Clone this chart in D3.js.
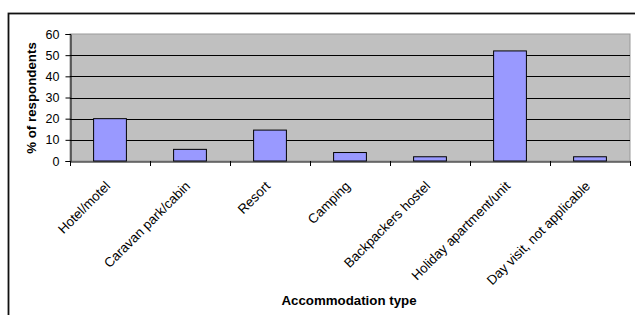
<!DOCTYPE html>
<html>
<head>
<meta charset="utf-8">
<script src="https://cdn.jsdelivr.net/npm/d3@7"></script>
<style>
  body { margin: 0; background: #fff; }
  svg text { font-family: "Liberation Sans", Arial, sans-serif; }
</style>
</head>
<body>
<div id="chart"></div>
<script>
const categories = ["Hotel/motel", "Caravan park/cabin", "Resort", "Camping",
  "Backpackers hostel", "Holiday apartment/unit", "Day visit, not applicable"];
const percentValues = [20, 5.5, 14.6, 4, 2, 52, 2];
const yTicks = [0, 10, 20, 30, 40, 50, 60];

const svg = d3.select("#chart")
  .append("svg")
  .attr("width", 635)
  .attr("height", 315);

// outer frame (cropped on right and bottom)
svg.append("rect")
  .attr("x", 8.5)
  .attr("y", 13.5)
  .attr("width", 640)
  .attr("height", 320)
  .attr("fill", "none")
  .attr("stroke", "#111")
  .attr("stroke-width", 1.8);

const plotLeft = 70, plotRight = 630, plotTop = 34, plotBottom = 161;

const xScale = d3.scaleBand()
  .domain(categories)
  .range([plotLeft, plotRight]);

const yScale = d3.scaleLinear()
  .domain([0, 60])
  .range([plotBottom, plotTop]);

// plot area
svg.append("rect")
  .attr("x", plotLeft)
  .attr("y", plotTop)
  .attr("width", plotRight - plotLeft)
  .attr("height", plotBottom - plotTop)
  .attr("fill", "#c0c0c0")
  .attr("stroke", "#999")
  .attr("stroke-width", 1);

// horizontal gridlines
svg.selectAll("line.hgrid")
  .data(yTicks.slice(1, -1))
  .enter()
  .append("line")
  .attr("class", "hgrid")
  .attr("x1", plotLeft)
  .attr("x2", plotRight)
  .attr("y1", d => Math.round(yScale(d)) + 0.5)
  .attr("y2", d => Math.round(yScale(d)) + 0.5)
  .attr("stroke", "#000")
  .attr("stroke-width", 1);

// bars
const barW = xScale.bandwidth() * 0.41;
svg.selectAll(".bar")
  .data(percentValues)
  .enter()
  .append("rect")
  .attr("class", "bar")
  .attr("x", (d, i) => xScale(categories[i]) + (xScale.bandwidth() - barW) / 2)
  .attr("y", d => yScale(d))
  .attr("width", barW)
  .attr("height", d => plotBottom - yScale(d))
  .attr("fill", "#9999ff")
  .attr("stroke", "#000")
  .attr("stroke-width", 1);

// y axis
const yAxis = d3.axisLeft(yScale)
  .tickValues(yTicks)
  .tickSize(5)
  .tickPadding(6);
const gy = svg.append("g")
  .attr("transform", `translate(${plotLeft + 0.5}, 0)`)
  .call(yAxis);
gy.selectAll("text").style("font-size", "12.5px").attr("fill", "#000");
gy.selectAll("line").attr("stroke", "#000");
gy.select(".domain").attr("stroke", "#000");

// x axis line
const xAxis = d3.axisBottom(xScale).tickSize(0).tickFormat("");
const gx = svg.append("g")
  .attr("transform", `translate(0, ${plotBottom + 0.5})`)
  .call(xAxis);
gx.select(".domain").attr("stroke", "#000");
gx.selectAll(".tick").remove();

// x ticks at band boundaries
const boundaries = categories.map(c => xScale(c)).concat([plotRight]);
svg.selectAll("line.xtick")
  .data(boundaries)
  .enter()
  .append("line")
  .attr("class", "xtick")
  .attr("x1", d => Math.round(d) + 0.5)
  .attr("x2", d => Math.round(d) + 0.5)
  .attr("y1", plotBottom)
  .attr("y2", plotBottom + 5)
  .attr("stroke", "#000");

// category labels rotated
svg.selectAll("text.xlabel")
  .data(categories)
  .enter()
  .append("text")
  .attr("class", "xlabel")
  .attr("text-anchor", "end")
  .attr("transform", d => `translate(${xScale(d) + xScale.bandwidth() / 2 + 1}, 187) rotate(-45)`)
  .style("font-size", "13.3px")
  .text(d => d);

// axis titles
svg.append("text")
  .attr("x", 349)
  .attr("y", 305)
  .attr("text-anchor", "middle")
  .style("font-size", "13.3px")
  .style("font-weight", "bold")
  .text("Accommodation type");

svg.append("text")
  .attr("transform", `translate(36, 98) rotate(-90)`)
  .attr("text-anchor", "middle")
  .style("font-size", "13.3px")
  .style("font-weight", "bold")
  .text("% of respondents");
</script>
</body>
</html>
